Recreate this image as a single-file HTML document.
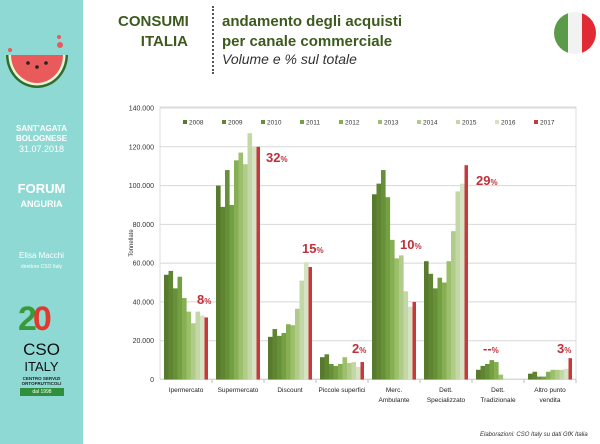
<!DOCTYPE html>
<html><head><meta charset="utf-8"><style>
body{margin:0;width:600px;height:444px;background:#fff;font-family:"Liberation Sans",sans-serif;position:relative;overflow:hidden}
.side{position:absolute;left:0;top:0;width:83px;height:444px;background:#8ed9d3;color:#fff;text-align:center}
.t{position:absolute;font-weight:bold}
</style></head><body>
<div class="side">
<svg width="83" height="100" style="position:absolute;left:0;top:30px">
<path d="M6 25 A31 33 0 0 0 68 25 Z" fill="#2f6e2a"/>
<path d="M8.5 25 A28.5 30.5 0 0 0 65.5 25 Z" fill="#e8f4d8"/>
<path d="M11 25 A26 28 0 0 0 63 25 Z" fill="#e95a5a"/>
<circle cx="28" cy="33" r="1.8" fill="#222"/><circle cx="37" cy="37" r="1.8" fill="#222"/><circle cx="46" cy="33" r="1.8" fill="#222"/>
<circle cx="60" cy="15" r="3" fill="#e95a5a"/><circle cx="59" cy="7" r="2" fill="#e95a5a"/><circle cx="10" cy="20" r="2" fill="#e95a5a"/>
</svg>
<div style="position:absolute;top:124px;width:83px;font-size:8px;font-weight:bold;line-height:10px">SANT'AGATA<br>BOLOGNESE<br><span style="font-weight:normal;font-size:9px">31.07.2018</span></div>
<div style="position:absolute;top:182px;width:83px;font-size:13px;font-weight:bold;line-height:14px">FORUM<br><span style="font-size:9px">ANGURIA</span></div>
<div style="position:absolute;top:251px;width:83px;font-size:8px;line-height:10px">Elisa Macchi<br><span style="font-size:5px">direttore CSO Italy</span></div>
<div style="position:absolute;top:300px;left:18px;font-size:34px;font-weight:bold;color:#e03a2f;letter-spacing:-4px"><span style="color:#3a9a3a">2</span>0</div>
<div style="position:absolute;top:342px;width:83px;color:#111;font-size:17px;line-height:16px">CSO<br><span style="font-size:13px">ITALY</span></div>
<div style="position:absolute;top:376px;width:83px;color:#222;font-size:4.5px;font-weight:bold;line-height:5px">CENTRO SERVIZI<br>ORTOFRUTTICOLI</div>
<div style="position:absolute;top:388px;left:20px;width:44px;height:8px;background:#2f8f3a;font-size:5px;line-height:8px">dal 1998</div>
</div>
<div class="t" style="left:118px;top:12px;width:70px;text-align:right;font-size:15px;line-height:20px;color:#3d5a1e">CONSUMI<br>ITALIA</div>
<div style="position:absolute;left:212px;top:6px;height:68px;border-left:2px dotted #555"></div>
<div class="t" style="left:222px;top:12px;font-size:15px;line-height:20px;color:#3d5a1e">andamento degli acquisti<br>per canale commerciale</div>
<div style="position:absolute;left:222px;top:51px;font-size:14px;font-style:italic;color:#333">Volume e % sul totale</div>
<svg width="50" height="50" style="position:absolute;left:550px;top:8px"><defs><clipPath id="c"><circle cx="25" cy="25" r="21"/></clipPath></defs><g clip-path="url(#c)"><rect x="0" y="0" width="18" height="50" fill="#5a9a48"/><rect x="18" y="0" width="14" height="50" fill="#f2f2f2"/><rect x="32" y="0" width="18" height="50" fill="#e02a34"/></g></svg>
<svg id="ch" width="600" height="444" style="position:absolute;left:0;top:0" font-family="Liberation Sans,sans-serif"></svg>
<div style="position:absolute;left:480px;top:432px;font-size:6px;font-style:italic;color:#333">Elaborazioni: CSO Italy su dati GfK Italia</div>
<script>
var s='',X0=160,Y0=379.5,k=271.5/140;
var cols=['#587a2c','#5f8532','#67903a','#74a042','#86ae52','#9cbf6c','#b1cc8a','#c3d8a6','#d5e3c2','#c8393e'];
var d=[[54,56,47,53,42,35,29,35,33,32],[100,89,108,90,113,117,111,127,120,120],[22,26,22.5,24,28.5,28,36.5,51,60.5,58],[11.5,13,8,7,8,11.5,8.5,9,6.5,9],[95.5,101,108,94,72,62.5,64,45.5,37.5,40],[61,54.5,47,52.5,50,61,76.5,97,101,110.5],[5,7,8,10,9,2.5,0,0,0,0],[3,4,1.5,1.5,4,5,5,5,5.5,11]];
var cats=[['Ipermercato'],['Supermercato'],['Discount'],['Piccole superfici'],['Merc.','Ambulante'],['Dett.','Specializzato'],['Dett.','Tradizionale'],['Altro punto','vendita']];
var pct=[['8',197,304],['32',266,162],['15',302,253],['2',352,353],['10',400,249],['29',476,185],['--',483,353],['3',557,353]];
s+='<rect x="160" y="107" width="416" height="272" fill="none" stroke="#ddd"/>';
for(var i=0;i<=7;i++){var y=Y0-i*20*k;s+='<line x1="160" x2="576" y1="'+y+'" y2="'+y+'" stroke="#d8d8d8"/>';s+='<text x="154" y="'+(y+2.5)+'" font-size="7" text-anchor="end" fill="#333">'+(i?(i*20)+'.000':'0')+'</text>';}
s+='<text transform="translate(133,243) rotate(-90)" font-size="6" text-anchor="middle" fill="#333">Tonnellate</text>';
for(var g=0;g<8;g++){var x=X0+52*g;for(var j=0;j<10;j++){var h=d[g][j]*k;s+='<rect x="'+(x+4+4.5*j)+'" y="'+(Y0-h)+'" width="'+(j==9?3.5:4.6)+'" height="'+h+'" fill="'+cols[j]+'"/>';}
s+='<line x1="'+(x+52)+'" x2="'+(x+52)+'" y1="379.5" y2="383" stroke="#bbb"/>';
cats[g].forEach(function(t,n){s+='<text x="'+(x+26)+'" y="'+(392+n*10)+'" font-size="6.5" text-anchor="middle" fill="#222">'+t+'</text>';});
var p=pct[g];s+='<text x="'+p[1]+'" y="'+p[2]+'" font-size="13" font-weight="bold" fill="#c0303a">'+p[0]+'<tspan font-size="8">%</tspan></text>';}
var yrs=['2008','2009','2010','2011','2012','2013','2014','2015','2016','2017'];
for(var j=0;j<10;j++){var lx=183+39*j;s+='<rect x="'+lx+'" y="120" width="4" height="4" fill="'+cols[j]+'"/><text x="'+(lx+6)+'" y="124.5" font-size="6.5" fill="#333">'+yrs[j]+'</text>';}
document.getElementById('ch').innerHTML=s;
</script>
</body></html>
